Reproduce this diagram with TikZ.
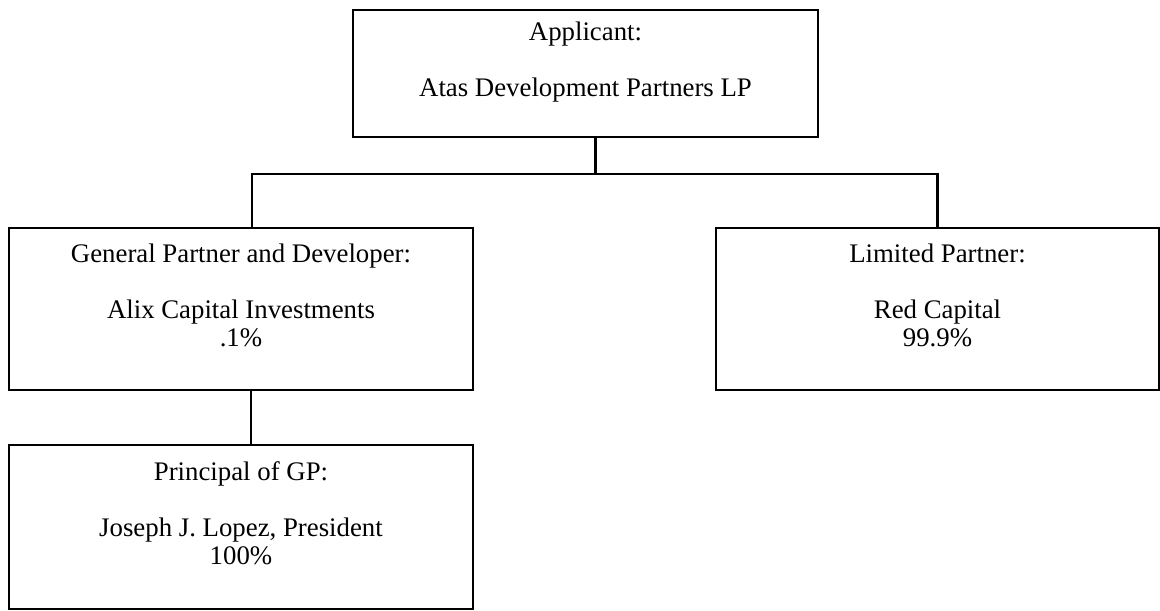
\documentclass[tikz,border=0pt]{standalone}
\usepackage{fontspec}
\setmainfont{Liberation Serif}
\begin{document}
\begin{tikzpicture}[x=0.5pt,y=-0.5pt]
\tikzset{entity/.style={draw,line width=1pt,align=center,inner sep=0pt,
    font=\fontsize{13.4}{14}\selectfont},
  link/.style={line width=1.1pt}}
\useasboundingbox (0,0) rectangle (1160,610);
% boxes
\node[entity,minimum width=232.5pt,minimum height=63.5pt] (app) at (585.5,73.5)
  {Applicant:\\[14pt]Atas Development Partners LP\\~};
\node[entity,minimum width=232pt,minimum height=81pt] (gp) at (241,309)
  {General Partner and Developer:\\[14pt]Alix Capital Investments\\.1\%\\~};
\node[entity,minimum width=221.5pt,minimum height=81pt] (lp) at (937.5,309)
  {Limited Partner:\\[14pt]Red Capital\\99.9\%\\~};
\node[entity,minimum width=232pt,minimum height=82pt] (pgp) at (241,527)
  {Principal of GP:\\[14pt]Joseph J. Lopez, President\\100\%\\~};
% ownership lines
\draw[link] ([xshift=5pt]app.south) -- ++(0,36) coordinate (bus);
\draw[link] ([xshift=5.5pt]gp.north) |- (bus) -| (lp.north);
\draw[link] ([xshift=5pt]gp.south) -- ([xshift=5pt]pgp.north);
\end{tikzpicture}
\end{document}
